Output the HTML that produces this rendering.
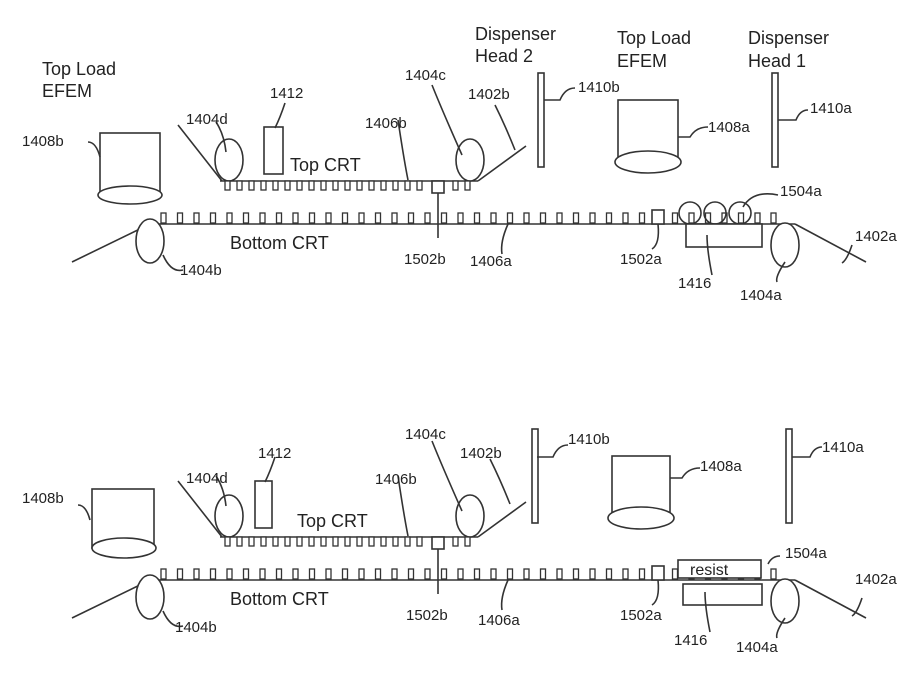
<!DOCTYPE html>
<html><head><meta charset="utf-8"><style>
html,body{margin:0;padding:0;background:#fff;}
svg{display:block;}
text{font-family:"Liberation Sans",sans-serif;fill:#222;}
</style></head><body>
<svg width="918" height="693" viewBox="0 0 918 693" xmlns="http://www.w3.org/2000/svg">
<defs>
<g id="tt" fill="#fff" stroke="#333" stroke-width="1.3">
<rect x="225" y="181" width="5" height="9"/><rect x="237" y="181" width="5" height="9"/><rect x="249" y="181" width="5" height="9"/><rect x="261" y="181" width="5" height="9"/><rect x="273" y="181" width="5" height="9"/><rect x="285" y="181" width="5" height="9"/><rect x="297" y="181" width="5" height="9"/><rect x="309" y="181" width="5" height="9"/><rect x="321" y="181" width="5" height="9"/><rect x="333" y="181" width="5" height="9"/><rect x="345" y="181" width="5" height="9"/><rect x="357" y="181" width="5" height="9"/><rect x="369" y="181" width="5" height="9"/><rect x="381" y="181" width="5" height="9"/><rect x="393" y="181" width="5" height="9"/><rect x="405" y="181" width="5" height="9"/><rect x="417" y="181" width="5" height="9"/><rect x="453" y="181" width="5" height="9"/><rect x="465" y="181" width="5" height="9"/>
</g>
<g id="bt" fill="#fff" stroke="#333" stroke-width="1.3">
<rect x="161" y="213" width="5" height="10"/><rect x="177.5" y="213" width="5" height="10"/><rect x="194" y="213" width="5" height="10"/><rect x="210.5" y="213" width="5" height="10"/><rect x="227" y="213" width="5" height="10"/><rect x="243.5" y="213" width="5" height="10"/><rect x="260" y="213" width="5" height="10"/><rect x="276.5" y="213" width="5" height="10"/><rect x="293" y="213" width="5" height="10"/><rect x="309.5" y="213" width="5" height="10"/><rect x="326" y="213" width="5" height="10"/><rect x="342.5" y="213" width="5" height="10"/><rect x="359" y="213" width="5" height="10"/><rect x="375.5" y="213" width="5" height="10"/><rect x="392" y="213" width="5" height="10"/><rect x="408.5" y="213" width="5" height="10"/><rect x="425" y="213" width="5" height="10"/><rect x="441.5" y="213" width="5" height="10"/><rect x="458" y="213" width="5" height="10"/><rect x="474.5" y="213" width="5" height="10"/><rect x="491" y="213" width="5" height="10"/><rect x="507.5" y="213" width="5" height="10"/><rect x="524" y="213" width="5" height="10"/><rect x="540.5" y="213" width="5" height="10"/><rect x="557" y="213" width="5" height="10"/><rect x="573.5" y="213" width="5" height="10"/><rect x="590" y="213" width="5" height="10"/><rect x="606.5" y="213" width="5" height="10"/><rect x="623" y="213" width="5" height="10"/><rect x="639.5" y="213" width="5" height="10"/><rect x="672.5" y="213" width="5" height="10"/><rect x="689" y="213" width="5" height="10"/><rect x="705.5" y="213" width="5" height="10"/><rect x="722" y="213" width="5" height="10"/><rect x="738.5" y="213" width="5" height="10"/><rect x="755" y="213" width="5" height="10"/><rect x="771" y="213" width="5" height="10"/>
</g>
<g id="common" fill="none" stroke="#333" stroke-width="1.6">
<line x1="178" y1="125" x2="222" y2="181"/>
<ellipse cx="229" cy="160" rx="14" ry="21" fill="#fff"/>
<line x1="220" y1="181" x2="478" y2="181"/>
<ellipse cx="470" cy="160" rx="14" ry="21" fill="#fff"/>
<line x1="478" y1="181" x2="526" y2="146"/>
<rect x="432" y="181" width="12" height="12" fill="#fff"/>
<line x1="150" y1="224" x2="795" y2="224"/>
<line x1="72" y1="262" x2="150" y2="224"/>
<line x1="795" y1="224" x2="866" y2="262"/>
<ellipse cx="150" cy="241" rx="14" ry="22" fill="#fff"/>
<ellipse cx="785" cy="245" rx="14" ry="22" fill="#fff"/>
<rect x="652" y="210" width="12" height="14" fill="#fff"/>
<path d="M163 255 q8 18 20 15"/>
<path d="M438 193 v45"/>
<path d="M658 224 q2 20 -6 25"/>
<path d="M508 224 q-8 18 -6 30"/>
<path d="M785 262 q-10 15 -8 20"/>
<path d="M398 120 q6 40 10 60"/>
</g>
</defs>

<!-- TOP DIAGRAM -->
<use href="#common"/><use href="#tt"/><use href="#bt"/>
<g fill="none" stroke="#333" stroke-width="1.6">
<rect x="100" y="133" width="60" height="62"/>
<ellipse cx="130" cy="195" rx="32" ry="9" fill="#fff"/>
<rect x="264" y="127" width="19" height="47" fill="#fff"/>
<rect x="538" y="73" width="6" height="94"/>
<rect x="618" y="100" width="60" height="62"/>
<ellipse cx="648" cy="162" rx="33" ry="11" fill="#fff"/>
<rect x="772" y="73" width="6" height="94"/>
<circle cx="690" cy="213" r="11"/><circle cx="715" cy="213" r="11"/><circle cx="740" cy="213" r="11"/>
<rect x="686" y="224" width="76" height="23" fill="#fff"/>
<path d="M88 142 q8 0 12 15"/><path d="M216 122 q8 12 10 30"/><path d="M285 103 q-5 15 -10 25"/>
<path d="M432 85 q10 25 30 70"/><path d="M495 105 q10 20 20 45"/><path d="M575 88 q-10 0 -15 12 l-16 0"/>
<path d="M708 127 q-12 0 -18 10 l-12 0"/><path d="M808 110 q-8 0 -12 10 l-18 0"/><path d="M778 195 q-25 -5 -35 12"/>
<path d="M852 245 q-5 15 -10 18"/><path d="M707 235 q0 15 5 40"/>
</g>
<g font-size="18">
<text x="42" y="75">Top Load</text><text x="42" y="97">EFEM</text>
<text x="475" y="40">Dispenser</text><text x="475" y="62">Head 2</text>
<text x="617" y="44">Top Load</text><text x="617" y="67">EFEM</text>
<text x="748" y="44">Dispenser</text><text x="748" y="67">Head 1</text>
<text x="290" y="171">Top CRT</text><text x="230" y="249">Bottom CRT</text>
</g>
<g font-size="15">
<text x="22" y="146">1408b</text><text x="186" y="124">1404d</text><text x="270" y="98">1412</text>
<text x="365" y="128">1406b</text><text x="405" y="80">1404c</text><text x="468" y="99">1402b</text>
<text x="578" y="92">1410b</text><text x="708" y="132">1408a</text><text x="810" y="113">1410a</text>
<text x="780" y="196">1504a</text><text x="855" y="241">1402a</text>
<text x="180" y="275">1404b</text><text x="404" y="264">1502b</text><text x="470" y="266">1406a</text>
<text x="620" y="264">1502a</text><text x="678" y="288">1416</text><text x="740" y="300">1404a</text>
</g>

<!-- BOTTOM DIAGRAM -->
<g transform="translate(0,356)">
<use href="#common"/><use href="#tt"/><use href="#bt"/>
</g>
<g fill="none" stroke="#333" stroke-width="1.6">
<rect x="92" y="489" width="62" height="59"/>
<ellipse cx="124" cy="548" rx="32" ry="10" fill="#fff"/>
<rect x="255" y="481" width="17" height="47" fill="#fff"/>
<rect x="532" y="429" width="6" height="94"/>
<rect x="612" y="456" width="58" height="62"/>
<ellipse cx="641" cy="518" rx="33" ry="11" fill="#fff"/>
<rect x="786" y="429" width="6" height="94"/>
<rect x="678" y="560" width="83" height="18" fill="#fff"/>
<rect x="683" y="584" width="79" height="21" fill="#fff"/>
<path d="M78 505 q8 0 12 15"/><path d="M216 476 q8 12 10 30"/><path d="M275 457 q-5 15 -10 25"/>
<path d="M432 441 q10 25 30 70"/><path d="M490 459 q10 20 20 45"/><path d="M568 445 q-10 0 -15 12 l-16 0"/>
<path d="M700 468 q-12 0 -18 10 l-12 0"/><path d="M822 447 q-8 0 -12 10 l-18 0"/><path d="M780 556 q-8 0 -12 8"/>
<path d="M862 598 q-5 15 -10 18"/><path d="M705 592 q0 15 5 40"/>
</g>
<g font-size="18"><text x="297" y="527">Top CRT</text><text x="230" y="605">Bottom CRT</text></g>
<g font-size="15">
<text x="22" y="503">1408b</text><text x="186" y="483">1404d</text><text x="258" y="458">1412</text>
<text x="375" y="484">1406b</text><text x="405" y="439">1404c</text><text x="460" y="458">1402b</text>
<text x="568" y="444">1410b</text><text x="700" y="471">1408a</text><text x="822" y="452">1410a</text>
<text x="785" y="558">1504a</text><text x="855" y="584">1402a</text>
<text x="175" y="632">1404b</text><text x="406" y="620">1502b</text><text x="478" y="625">1406a</text>
<text x="620" y="620">1502a</text><text x="674" y="645">1416</text><text x="736" y="652">1404a</text>
<text x="690" y="575" font-size="16">resist</text>
</g>
</svg>
</body></html>
